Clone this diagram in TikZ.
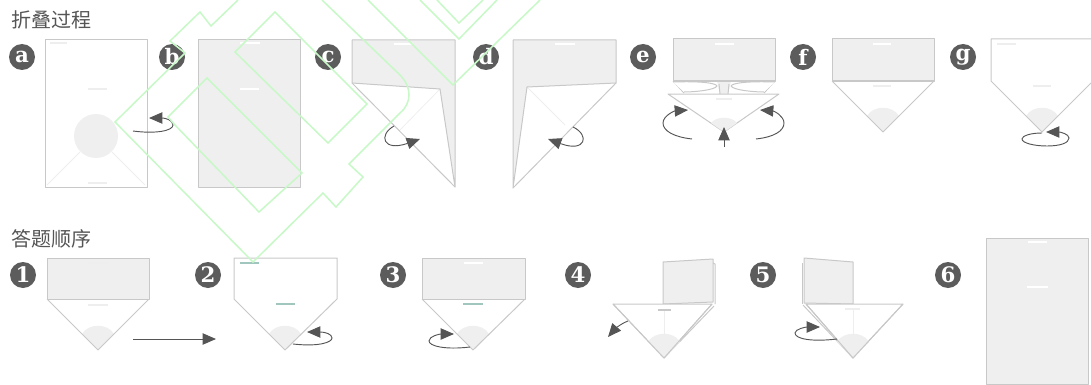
\documentclass[tikz,border=0pt]{standalone}
\usepackage{fontspec}
\usepackage{xcolor}
\usetikzlibrary{arrows.meta}
\newfontfamily\cjk{Noto Sans CJK SC}
\newfontfamily\badgefont{DejaVu Serif}
\definecolor{cLine}{RGB}{200,200,200}
\definecolor{cFold}{RGB}{239,239,239}
\definecolor{cFaint}{RGB}{238,238,238}
\definecolor{cBadge}{RGB}{92,92,92}
\definecolor{cTurn}{RGB}{85,85,85}
\definecolor{cMark}{RGB}{160,198,190}
\definecolor{cWater}{RGB}{200,248,200}
\newcommand{\fan}[1]{\fill[cFold] (#1) -- ++(-16,-16) .. controls +(6,-11) and +(-6,-11) .. ++(32,0) -- cycle;}
\begin{document}
\begin{tikzpicture}[x=0.75pt,y=-0.75pt,
  sheet/.style={draw=cLine,line width=0.75pt,line join=round},
  folded/.style={sheet,fill=cFold},
  open/.style={sheet,fill=white},
  crease/.style={cFaint,line width=0.6pt},
  badge/.style={circle,fill=cBadge,text=white,minimum size=19.5pt,inner sep=0pt,font=\badgefont\bfseries\fontsize{16}{16}\selectfont},
  heading/.style={anchor=west,text=cTurn,inner sep=0pt,font=\cjk\fontsize{15}{15}\selectfont},
  turn/.style={cTurn,line width=0.7pt,-{Triangle[length=10pt,width=8.5pt]}},
  slit/.style={white,line width=2pt},
  dim/.style={cFaint,line width=1.8pt},
  tint/.style={cMark,line width=1.8pt},
  water/.style={cWater,line width=1.15pt,line join=miter}]
\useasboundingbox (0,0) rectangle (1091,385);
\node[heading] (foldtitle) at (11,20) {折叠过程};
\node[heading] (ordertitle) at (11,239) {答题顺序};

\node[badge] (ba) at (22,57) {a};
\node[badge] (bb) at (172,57) {b};
\node[badge] (bc) at (328,57) {c};
\node[badge] (bd) at (486,57) {d};
\node[badge] (be) at (643,57) {e};
\node[badge] (bf) at (803,57) {f};
\node[badge] (bg) at (963,57) {g};
\node[badge] (n1) at (23,275) {1};
\node[badge] (n2) at (208,275) {2};
\node[badge] (n3) at (393,275) {3};
\node[badge] (n4) at (578,275) {4};
\node[badge] (n5) at (763,275) {5};
\node[badge] (n6) at (948,275) {6};

% sheet a
\draw[crease] (47,185) -- (80,152);
\draw[crease] (145,185) -- (112,152);
\draw[sheet] (45,40) rectangle (147,187);
\fill[cFold] (96,136) circle (22);
\draw[dim] (50,43) -- (67,43);
\draw[dim] (88,89) -- (107,89);
\draw[dim] (88,183) -- (107,183);
\draw[turn] (133,131) .. controls (155,134) and (173,131) .. (173,125) .. controls (173,120) and (165,118) .. (149,118);

% sheet b
\draw[folded] (198,40) rectangle (300,187);
\draw[slit] (240,43) -- (260,43);
\draw[slit] (240,89) -- (259,89);

% sheet c
\draw[crease] (440,89) -- (400,130);
\draw[folded] (352,40) -- (455,40) -- (455,187) -- (440,89) -- (352,83) -- cycle;
\draw[sheet] (352,83) -- (455,187);
\draw[slit] (394,44) -- (413,44);
\draw[turn] (394,126) .. controls (378,135) and (383,152) .. (420,139);

% sheet d
\draw[crease] (527,87) -- (565,125);
\draw[folded] (513,40) -- (616,40) -- (616,83) -- (527,87) -- (513,188) -- cycle;
\draw[sheet] (616,83) -- (513,188);
\draw[slit] (555,44) -- (575,44);
\draw[turn] (573,127) .. controls (590,135) and (586,153) .. (548,139);

% sheet e
\fill[cFold] (717,81) -- (731,81) -- (728,94) -- (720,94) -- cycle;
\draw[sheet] (673,81) -- (684,93);
\draw[sheet] (775,81) -- (764,93);
\draw[sheet] (719,84) -- (720,94);
\draw[sheet] (729,84) -- (728,94);
\draw[sheet,fill=white] (673,82) .. controls (700,81) and (716,83) .. (717,86) .. controls (715,90) and (695,92) .. (684,92);
\draw[sheet,fill=white] (775,82) .. controls (748,81) and (732,83) .. (731,86) .. controls (733,90) and (753,92) .. (764,92);
\draw[folded] (673,39) rectangle (775,81);
\draw[slit] (715,44) -- (734,44);
\draw[open] (668,94) -- (779,94) -- (724,132) -- cycle;
\fill[cFold] (724,132) -- (711,123) .. controls (716,116) and (732,116) .. (737,123) -- cycle;
\draw[dim] (716,99) -- (732,99);
\draw[turn] (692,139) .. controls (674,137) and (663,131) .. (663,123) .. controls (663,116) and (674,111) .. (688,110);
\draw[turn] (756,139) .. controls (774,137) and (784,131) .. (784,123) .. controls (784,116) and (774,111) .. (760,110);
\draw[turn] (724,147) -- (724,127);

% sheet f
\fan{883,132}
\draw[sheet] (832,81) -- (883,132) -- (934,81);
\draw[folded] (832,39) rectangle (934,81);
\draw[slit] (873,44) -- (891,44);
\draw[dim] (873,86) -- (891,86);

% sheet g
\fan{1042,132}
\draw[sheet] (991,39) -- (1093,39) -- (1093,81) -- (1042,132) -- (991,81) -- cycle;
\draw[dim] (997,44) -- (1016,44);
\draw[dim] (1033,86) -- (1051,86);
\draw[turn] (1042,133) .. controls (1030,133) and (1022,136) .. (1022,139) .. controls (1022,143) and (1034,146) .. (1047,146) .. controls (1060,146) and (1069,143) .. (1069,138) .. controls (1069,134) and (1060,132) .. (1046,132);

% sheet 1
\fan{98,350}
\draw[sheet] (47,299) -- (98,350) -- (149,299);
\draw[folded] (47,258) rectangle (149,299);
\draw[dim] (88,263) -- (108,263);
\draw[dim] (88,305) -- (108,305);
\draw[turn] (133,339) -- (216,339);

% sheet 2
\fan{285,350}
\draw[sheet] (234,258) -- (337,258) -- (337,299) -- (285,350) -- (234,299) -- cycle;
\draw[tint] (240,263) -- (259,263);
\draw[tint] (276,304) -- (295,304);
\draw[turn] (293,344) .. controls (320,347) and (332,342) .. (332,338) .. controls (332,334) and (325,332) .. (307,332);

% sheet 3
\fan{473,350}
\draw[sheet] (422,299) -- (473,350) -- (525,299);
\draw[folded] (422,258) rectangle (525,299);
\draw[slit] (464,263) -- (483,263);
\draw[tint] (463,304) -- (483,304);
\draw[turn] (470,347) .. controls (445,350) and (429,346) .. (429,341) .. controls (429,336) and (440,334) .. (454,334);

% sheet 4
\draw[sheet] (713,263) -- (715,264) -- (715,304);
\draw[folded] (663,262) -- (713,259) -- (713,302) -- (663,304) -- cycle;
\draw[sheet] (714,306) -- (664,358);
\draw[open] (613,304) -- (712,304) -- (664,358) -- cycle;
\fan{664,358}
\draw[sheet] (613,304) -- (664,358) -- (712,304);
\draw[crease] (664,310) -- (664,336);
\draw[cLine,line width=1.8pt] (658,310) -- (671,310);
\draw[turn] (628,321) .. controls (620,324) and (614,330) .. (608,337);

% sheet 5
\draw[sheet] (802,263) -- (802,304);
\draw[folded] (804,258) -- (853,262) -- (853,304) -- (804,303) -- cycle;
\draw[sheet] (803,305) -- (853,358);
\draw[open] (806,304) -- (903,304) -- (853,358) -- cycle;
\fan{853,358}
\draw[sheet] (806,304) -- (853,358) -- (903,304);
\draw[crease] (853,310) -- (853,336);
\draw[dim] (845,309) -- (860,309);
\draw[turn] (837,339) .. controls (812,342) and (795,339) .. (795,333) .. controls (795,329) and (806,327) .. (820,327);

% sheet 6
\draw[folded] (986,238) rectangle (1088,384);
\draw[slit] (1028,242) -- (1047,242);
\draw[slit] (1027,287) -- (1048,287);

% watermark
\draw[water] (238,0) -- (211,26) -- (200,12) -- (170,41) -- (185,53) -- (115,122) -- (253,262) -- (323,193) -- (336,207) -- (363,177) -- (349,164) -- (400,113) .. controls (412,103) and (412,87) .. (400,75) -- (322,0);
\draw[water] (235,52) -- (275,12) -- (367,104) -- (328,143) -- cycle;
\draw[water] (207,78) -- (168,117) -- (175,125) -- (259,212) -- (302,173) -- cycle;
\draw[water] (368,0) -- (453,85) -- (540,0);
\draw[water] (420,0) -- (459,39) -- (497,0);
\draw[water] (437,0) -- (459,23) -- (483,0);
\end{tikzpicture}
\end{document}
